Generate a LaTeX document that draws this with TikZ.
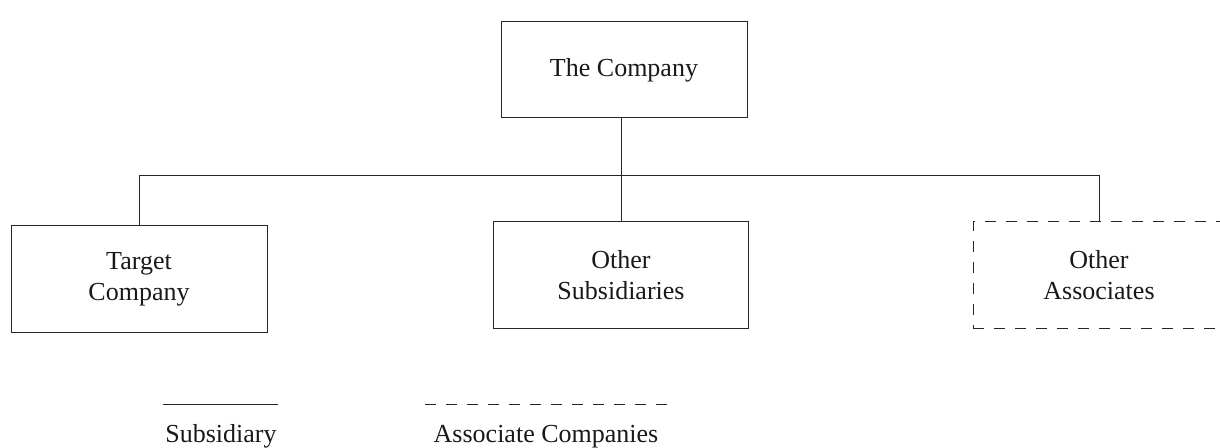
\documentclass[tikz,border=0pt]{standalone}
\usepackage{fontspec}
\setmainfont{Liberation Serif}
\usetikzlibrary{positioning}

\tikzset{
  firm/.style={draw=black!85,rectangle,align=center,text=black!90,font=\fontsize{13}{15.5}\selectfont,line width=0.5pt},
  assoc/.style={firm,dash pattern=on 5.5pt off 5pt},
  link/.style={draw=black!85,line width=0.5pt},
  legendtext/.style={text=black!90,font=\fontsize{13}{15.5}\selectfont,anchor=base}
}

\begin{document}
\begin{tikzpicture}
[x=0.5pt,y=0.5pt]
\clip (0,0) rectangle (1220,448);
\node[firm,minimum width=123pt,minimum height=48pt] (company) at (624,378) {The Company};
\node[firm,minimum width=128pt,minimum height=53.5pt] (target) at (139,168.5) {Target\\Company};
\node[firm,minimum width=127.5pt,minimum height=53.5pt] (othsub) at (621,172.5) {Other\\Subsidiaries};
\node[assoc,minimum width=126pt,minimum height=53.5pt] (othass) at (1099,172.5) {Other\\Associates};
\coordinate (bus) at (621,272);
\draw[link] (othsub.north) -- (othsub.north |- company.south);
\draw[link] (target.north) -- (target.north |- bus) -- (othass.north |- bus) -- (othass.north);
% legend
\coordinate (sl) at (163,43);
\coordinate (sr) at (278,43);
\coordinate (dl) at (425,43);
\coordinate (dr) at (668,43);
\draw[link] (sl) -- (sr);
\draw[link,dash pattern=on 5.5pt off 5pt] (dl) -- (dr);
\node[legendtext] (subsid) at (221,5) {Subsidiary};
\node[legendtext] (assocco) at (546,5) {Associate Companies};
\end{tikzpicture}
\end{document}
